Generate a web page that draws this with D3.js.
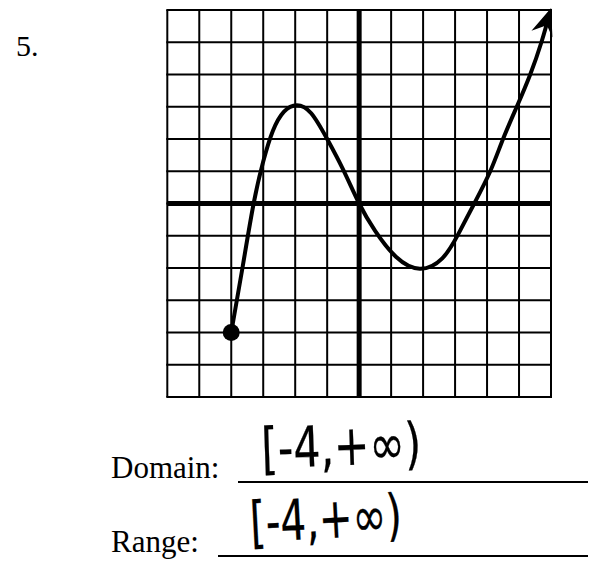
<!DOCTYPE html>
<html>
<head>
<meta charset="utf-8">
<script src="https://cdn.jsdelivr.net/npm/d3@7"></script>
<style>
  html, body { margin: 0; padding: 0; background: #fff; }
  svg { display: block; }
</style>
</head>
<body>
<svg id="chart" width="589" height="563"></svg>
<script>
// Grid units shown on each axis
const gridTicks = [-6, -5, -4, -3, -2, -1, 0, 1, 2, 3, 4, 5, 6];

// Points along the graphed function (left end is a closed dot, right end an arrow)
const curveX = [-4, -3.65, -3.3, -3.0, -2.7, -2.35, -1.95, -1.5, -1.0, -0.5, 0, 0.5, 1.15, 1.9, 2.6, 3.1, 3.6, 4.1, 4.5, 4.93, 5.35, 5.7, 5.97];
const curveY = [-4, -2, 0, 1.3, 2.25, 2.85, 3.05, 2.8, 2.0, 1.05, 0, -0.85, -1.65, -2.02, -1.7, -0.95, 0, 1, 2, 3, 4, 5, 5.94];

// Closed endpoint
const startX = [-4];
const startY = [-4];

// Text on the worksheet
const problemNumber = "5.";
const answerLabels = ["Domain:", "Range:"];
const answers = ["[-4,+∞)", "[-4,+∞)"];

const svg = d3.select("#chart");

const x = d3.scaleLinear().domain([-6, 6]).range([167.3, 551]);
const y = d3.scaleLinear().domain([-6, 6]).range([397, 10]);

const ink = "#000";

// Grid lines
const grid = svg.append("g").attr("stroke", ink).attr("stroke-width", 2);
grid.selectAll("line.v").data(gridTicks).join("line")
  .attr("class", "v")
  .attr("x1", d => x(d)).attr("x2", d => x(d))
  .attr("y1", y(-6)).attr("y2", y(6));
grid.selectAll("line.h").data(gridTicks).join("line")
  .attr("class", "h")
  .attr("y1", d => y(d)).attr("y2", d => y(d))
  .attr("x1", x(-6) - 1).attr("x2", x(6) + 1);

// Axes drawn heavier
const axes = svg.append("g").attr("stroke", ink).attr("stroke-width", 5);
axes.append("line")
  .attr("x1", x(-6)).attr("x2", x(6) + 1)
  .attr("y1", y(0)).attr("y2", y(0));
axes.append("line")
  .attr("x1", x(0)).attr("x2", x(0))
  .attr("y1", y(6)).attr("y2", y(-6));

// Arrowhead marker for the open end
const defs = svg.append("defs");
defs.append("marker")
  .attr("id", "arrow")
  .attr("markerUnits", "userSpaceOnUse")
  .attr("viewBox", "-30 -15 36 30")
  .attr("markerWidth", 36)
  .attr("markerHeight", 30)
  .attr("refX", 0)
  .attr("refY", 0)
  .attr("orient", "auto")
  .append("path")
  .attr("d", "M4,0 L-23,-13 L-15,-1.5 L-15,1.5 L-24,9 Z")
  .attr("fill", ink);

// The function's graph
const pts = curveX.map((d, i) => [d, curveY[i]]);
const line = d3.line()
  .x(d => x(d[0]))
  .y(d => y(d[1]))
  .curve(d3.curveNatural);

svg.append("path")
  .datum(pts)
  .attr("d", line)
  .attr("fill", "none")
  .attr("stroke", ink)
  .attr("stroke-width", 4)
  .attr("stroke-linejoin", "round")
  .attr("marker-end", "url(#arrow)");

// Closed dot at the left endpoint
svg.selectAll("circle.start").data(startX).join("circle")
  .attr("class", "start")
  .attr("cx", d => x(d))
  .attr("cy", (d, i) => y(startY[i]))
  .attr("r", 8.5)
  .attr("fill", ink);

// Problem number
svg.append("text")
  .attr("x", 16).attr("y", 56)
  .attr("font-family", "'Liberation Serif', 'Times New Roman', serif")
  .attr("font-size", 30)
  .attr("fill", ink)
  .text(problemNumber);

// Domain / Range labels with answer lines
const rows = [
  { label: answerLabels[0], answer: answers[0], ly: 478, lineX1: 238, lineY: 482, ax: 262, ay: 468, aw: 160, rot: -2 },
  { label: answerLabels[1], answer: answers[1], ly: 552, lineX1: 218, lineY: 556, ax: 251, ay: 542, aw: 152, rot: -3 }
];

rows.forEach(r => {
  svg.append("text")
    .attr("x", 111).attr("y", r.ly)
    .attr("font-family", "'Liberation Serif', 'Times New Roman', serif")
    .attr("font-size", 31)
    .attr("fill", ink)
    .text(r.label);

  svg.append("line")
    .attr("x1", r.lineX1).attr("x2", 588)
    .attr("y1", r.lineY).attr("y2", r.lineY)
    .attr("stroke", ink)
    .attr("stroke-width", 2);

  svg.append("text")
    .attr("x", r.ax).attr("y", r.ay)
    .attr("transform", `rotate(${r.rot}, ${r.ax}, ${r.ay})`)
    .attr("font-family", "'DejaVu Sans', sans-serif")
    .attr("font-size", 56)
    .attr("textLength", r.aw)
    .attr("lengthAdjust", "spacingAndGlyphs")
    .attr("fill", ink)
    .attr("stroke", ink)
    .attr("stroke-width", 0.3)
    .text(r.answer);
});
</script>
</body>
</html>
